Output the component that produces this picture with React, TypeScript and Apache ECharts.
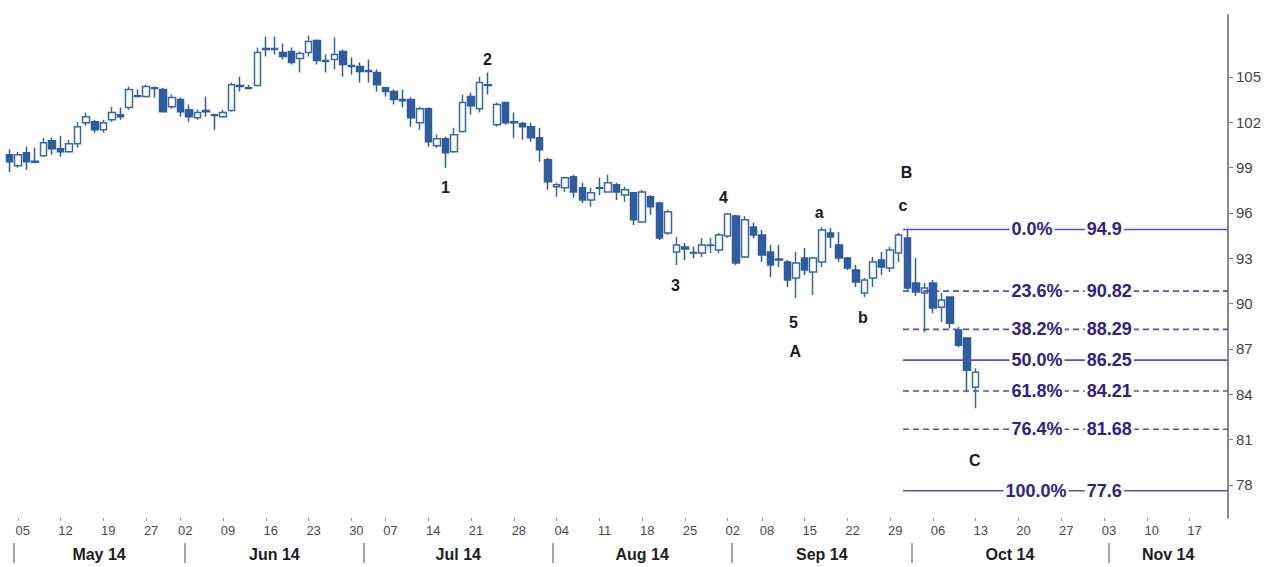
import React, { useEffect, useRef } from "react";
import * as echarts from "echarts";

const FONT = "'Liberation Sans', Arial, sans-serif";

// trading calendar (x categories)
const holidays = ["2014-05-26", "2014-07-04", "2014-09-01"];
function tradingDays(): string[] {
  const out: string[] = [];
  const d = new Date(Date.UTC(2014, 4, 2));
  const end = Date.UTC(2014, 10, 21);
  while (d.getTime() <= end) {
    const wd = d.getUTCDay();
    const s = d.toISOString().slice(0, 10);
    if (wd !== 0 && wd !== 6 && holidays.indexOf(s) < 0) out.push(s);
    d.setUTCDate(d.getUTCDate() + 1);
  }
  return out;
}
const categories = tradingDays();
const monthNames = ["May 14", "Jun 14", "Jul 14", "Aug 14", "Sep 14", "Oct 14", "Nov 14"];

// OHLC values (May 2 .. Oct 13, 2014)
const opens = [
  99.85, 99.12, 99.98, 99.42, 99.78, 100.78, 100.25, 100.05, 100.58, 101.97,
  102.04, 101.51, 102.17, 102.5, 102.97, 103.76, 103.7, 104.29, 104.16, 103.03,
  103.5, 102.83, 102.3, 102.77, 102.5, 102.37, 102.77, 104.43, 104.29, 104.43,
  106.88, 106.82, 106.62, 106.68, 106.22, 106.62, 107.41, 106.09, 106.15, 106.68,
  105.75, 105.69, 105.42, 105.29, 104.29, 104.03, 103.5, 103.5, 101.97, 102.9,
  100.45, 100.91, 100.05, 101.38, 103.7, 102.9, 104.49, 101.84, 103.3, 102.04,
  101.91, 101.71, 100.98, 99.52, 97.73, 97.66, 98.39, 97.66, 96.86, 97.66,
  97.39, 97.86, 97.19, 97.33, 95.4, 97.06, 96.66, 94.67, 93.41, 93.74,
  93.38, 93.35, 93.84, 93.54, 94.47, 95.8, 93.08, 95.07, 94.54, 93.41,
  92.95, 92.75, 91.69, 93.01, 92.08, 92.75, 94.67, 93.88, 93.01, 92.22,
  90.69, 91.69, 92.88, 92.35, 93.35, 94.34, 91.36, 90.69, 91.36, 89.76,
  90.43, 88.24, 87.71, 84.45,
];
const closes = [
  99.38, 99.85, 99.38, 99.35, 100.65, 100.25, 100.05, 100.58, 101.71, 102.37,
  101.51, 101.97, 102.64, 102.37, 104.16, 103.7, 104.36, 104.23, 102.7, 103.63,
  102.7, 102.37, 102.64, 102.7, 102.44, 102.64, 104.49, 104.36, 104.23, 106.62,
  106.82, 106.88, 106.35, 105.95, 106.55, 107.35, 106.09, 106.02, 106.48, 105.82,
  105.69, 105.36, 105.36, 104.49, 104.03, 103.5, 103.43, 102.3, 102.9, 100.71,
  100.91, 99.98, 101.18, 103.3, 103.1, 104.63, 104.43, 103.17, 101.97, 101.97,
  101.71, 100.98, 100.18, 98.06, 97.86, 98.32, 97.39, 96.86, 97.33, 97.63,
  97.99, 97.39, 97.53, 95.54, 97.39, 96.4, 94.34, 96.07, 93.88, 93.61,
  93.35, 93.88, 93.88, 94.54, 95.93, 92.68, 95.54, 94.54, 93.21, 92.55,
  92.88, 91.55, 92.68, 92.22, 93.01, 94.87, 94.41, 93.01, 92.35, 91.42,
  91.55, 92.75, 92.42, 93.54, 94.54, 91.02, 90.76, 91.02, 89.7, 90.23,
  88.7, 87.24, 85.58, 85.45,
];
const lows = [
  98.7, 98.99, 98.85, 99.32, 99.72, 99.85, 99.72, 99.98, 100.31, 101.77,
  101.31, 101.31, 102.04, 102.17, 102.83, 103.63, 103.63, 103.63, 102.64, 102.9,
  102.37, 102.04, 102.17, 102.37, 101.51, 102.3, 102.7, 104.03, 104.16, 104.36,
  106.35, 106.48, 106.15, 105.82, 105.29, 106.35, 105.82, 105.29, 105.49, 105.02,
  105.16, 104.63, 104.63, 104.03, 103.7, 103.17, 102.97, 101.71, 101.51, 100.38,
  100.31, 98.99, 99.98, 101.31, 102.5, 102.64, 103.83, 101.71, 101.84, 100.97,
  100.84, 100.71, 99.38, 97.53, 97.06, 97.39, 97.0, 96.66, 96.4, 97.19,
  97.33, 96.86, 96.73, 95.2, 95.34, 95.87, 94.21, 94.54, 92.55, 92.88,
  93.01, 93.08, 93.35, 93.35, 94.34, 92.55, 93.01, 94.34, 92.75, 91.75,
  92.42, 91.09, 90.36, 91.89, 90.56, 92.42, 93.68, 92.75, 92.22, 91.09,
  90.43, 91.09, 91.89, 92.08, 92.75, 90.89, 90.49, 88.1, 89.36, 88.77,
  88.37, 87.11, 84.12, 83.06,
];
const highs = [
  100.2, 100.05, 100.38, 100.31, 100.98, 100.98, 101.11, 100.84, 102.04, 102.64,
  102.17, 102.17, 103.03, 102.97, 104.36, 104.16, 104.49, 104.36, 104.29, 103.83,
  103.63, 103.17, 102.83, 103.7, 102.57, 102.83, 104.63, 105.02, 104.49, 106.95,
  107.68, 107.68, 107.21, 106.95, 106.68, 107.75, 107.48, 106.48, 107.61, 106.82,
  106.29, 105.95, 106.15, 105.49, 104.29, 104.16, 104.16, 103.63, 103.03, 102.97,
  101.18, 101.04, 101.64, 103.83, 103.96, 105.02, 105.29, 103.3, 103.36, 102.64,
  102.04, 101.97, 101.64, 99.65, 97.99, 98.39, 98.52, 97.99, 97.66, 98.32,
  98.52, 97.99, 97.73, 97.39, 97.53, 97.19, 96.73, 96.2, 94.41, 94.01,
  93.74, 94.34, 94.34, 94.67, 96.0, 95.87, 95.8, 95.34, 94.87, 93.88,
  93.88, 92.88, 93.41, 93.68, 93.08, 95.07, 95.0, 94.74, 93.08, 92.55,
  91.69, 93.08, 93.41, 93.74, 94.67, 94.9, 93.01, 91.36, 91.55, 90.69,
  90.43, 88.44, 87.77, 85.72,
];

// Fibonacci retracement levels
const fibPct = ["0.0%", "23.6%", "38.2%", "50.0%", "61.8%", "76.4%", "100.0%"];
const fibVal = [94.9, 90.82, 88.29, 86.25, 84.21, 81.68, 77.6];
const fibText = ["94.9", "90.82", "88.29", "86.25", "84.21", "81.68", "77.6"];
const fibSolid = [true, false, false, true, false, false, true];
const fibStartSlot = 105;

// y-axis ticks
const yTicks = [78, 81, 84, 87, 90, 93, 96, 99, 102, 105];

// Elliott wave labels: [slot position, price, text]
const waveLabels: [number, number, string][] = [
  [51.5, 97.7, "1"],
  [56.4, 106.15, "2"],
  [78.4, 91.2, "3"],
  [84.0, 97.05, "4"],
  [92.2, 88.75, "5"],
  [92.4, 86.8, "A"],
  [95.2, 96.05, "a"],
  [100.3, 89.05, "b"],
  [105.4, 98.7, "B"],
  [105.0, 96.5, "c"],
  [113.4, 79.6, "C"],
];

export default function App() {
  const ref = useRef<HTMLDivElement>(null);
  useEffect(() => {
    if (!ref.current) return;
    const chart = echarts.init(ref.current, undefined, { renderer: "svg" });
    const n = categories.length;
    const dates = categories.map((s) => new Date(s + "T00:00:00Z"));
    const weekStart = categories.map(
      (_, i) => i > 0 && dates[i].getUTCDay() < dates[i - 1].getUTCDay()
    );
    // month separators: boundary after first trading day of each month
    const seps: number[] = [];
    categories.forEach((_, i) => {
      if (i === 0 || dates[i].getUTCMonth() !== dates[i - 1].getUTCMonth()) seps.push(i + 1);
    });
    const bounds = seps.concat([n]);
    const mids: number[] = [];
    for (let k = 0; k < seps.length; k++) mids.push((bounds[k] + bounds[k + 1]) / 2);
    const candleData = opens.map((o, i) => [o, closes[i], lows[i], highs[i]]);
    const lineColor = "#5a4ec4";
    const textColor = "#32208c";

    const fibSeries: any[] = fibVal.map((v, i) => ({
      type: "line",
      xAxisIndex: 1,
      yAxisIndex: 0,
      data: [
        [fibStartSlot, v],
        [n, v],
      ],
      symbol: "none",
      silent: true,
      z: 3,
      lineStyle: { color: lineColor, width: 1.6, type: fibSolid[i] ? "solid" : [6, 4] },
    }));

    const fibLabelData: any[] = [];
    fibVal.forEach((v, i) => {
      fibLabelData.push([i === 6 ? 116.7 : 117.4, v, fibPct[i]]);
      fibLabelData.push([126.2, v, fibText[i]]);
    });

    chart.setOption({
      animation: false,
      textStyle: { fontFamily: FONT },
      grid: { left: 5, right: 42, top: 15, bottom: 49, containLabel: false },
      xAxis: [
        {
          type: "category",
          data: categories,
          boundaryGap: true,
          axisLine: { show: false },
          axisTick: {
            show: true,
            alignWithLabel: true,
            interval: (i: number) => weekStart[i],
            length: 3,
            lineStyle: { color: "#999" },
          },
          axisLabel: {
            interval: (i: number) => weekStart[i],
            formatter: (v: string) => v.slice(8, 10),
            fontSize: 13,
            color: "#4a4a4a",
            margin: 6,
            padding: [0, 0, 0, 10],
            fontFamily: FONT,
          },
          splitLine: { show: false },
        },
        {
          type: "value",
          min: 0,
          max: n,
          position: "bottom",
          offset: 25,
          axisLine: { show: false, onZero: false },
          axisTick: {
            show: true,
            customValues: seps,
            length: 20,
            lineStyle: { color: "#888", width: 1.5 },
          },
          axisLabel: {
            customValues: mids,
            formatter: (v: number) => {
              const k = mids.findIndex((m) => Math.abs(m - v) < 1e-6);
              return k >= 0 ? monthNames[k] : "";
            },
            fontSize: 16,
            fontWeight: "bold",
            color: "#1e1e1e",
            margin: 3,
            fontFamily: FONT,
          },
          splitLine: { show: false },
        },
      ],
      yAxis: [
        {
          type: "value",
          position: "right",
          min: 75.8,
          max: 109.1,
          scale: true,
          axisLine: { show: true, onZero: false, lineStyle: { color: "#8a8a8a", width: 2 } },
          axisTick: {
            show: true,
            customValues: yTicks,
            length: 5,
            lineStyle: { color: "#8a8a8a", width: 1.2 },
          },
          axisLabel: {
            customValues: yTicks,
            fontSize: 15,
            color: "#444",
            margin: 8,
            fontFamily: FONT,
          },
          splitLine: { show: false },
        },
      ],
      series: [
        {
          type: "candlestick",
          xAxisIndex: 0,
          yAxisIndex: 0,
          data: candleData,
          barWidth: 7,
          z: 2,
          itemStyle: {
            color: "#ffffff",
            color0: "#2f5c9d",
            borderColor: "#3a67a9",
            borderColor0: "#2f5c9d",
            borderWidth: 1.5,
          },
        },
        ...fibSeries,
        {
          type: "scatter",
          xAxisIndex: 1,
          yAxisIndex: 0,
          data: fibLabelData,
          symbolSize: 1,
          silent: true,
          z: 5,
          itemStyle: { color: "rgba(0,0,0,0)", opacity: 1 },
          label: {
            show: true,
            position: "right",
            distance: 0,
            formatter: (p: any) => p.data[2],
            color: textColor,
            fontSize: 18,
            fontWeight: "bold",
            fontFamily: FONT,
            backgroundColor: "#ffffff",
            padding: [0, 2],
          },
        },
        {
          type: "scatter",
          xAxisIndex: 1,
          yAxisIndex: 0,
          data: waveLabels,
          symbolSize: 1,
          silent: true,
          z: 5,
          itemStyle: { color: "rgba(0,0,0,0)", opacity: 1 },
          label: {
            show: true,
            position: "inside",
            formatter: (p: any) => p.data[2],
            color: "#1a1a1a",
            fontSize: 16,
            fontWeight: "bold",
            fontFamily: FONT,
          },
        },
      ],
    });
    return () => chart.dispose();
  }, []);
  return (
    <div
      ref={ref}
      style={{ position: "fixed", left: 0, top: 0, width: 1270, height: 567, background: "#fff" }}
    />
  );
}
